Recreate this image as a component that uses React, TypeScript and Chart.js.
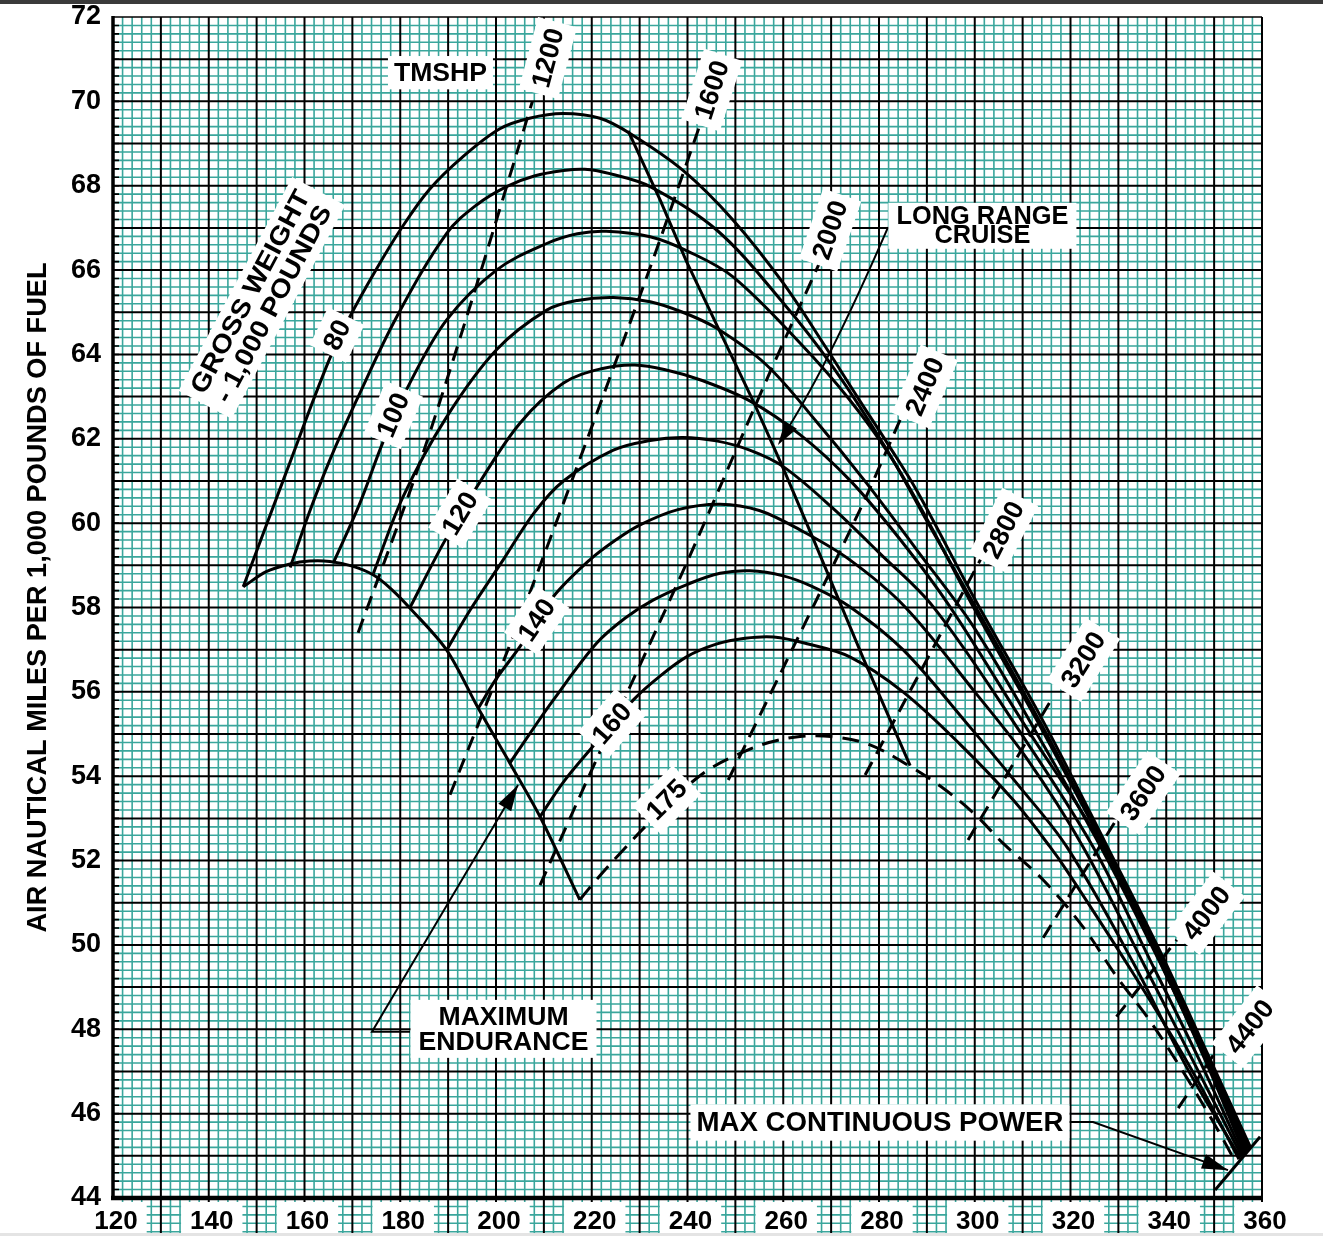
import React, { useEffect, useRef } from "react";
import { Chart, registerables } from "chart.js";

Chart.register(...registerables);

type Pt = [number, number];

// ---------- axes ----------
const X_MIN = 120;
const X_MAX = 360;
const Y_MIN = 44;
const Y_MAX = 72;
const X_MINOR = 2;
const Y_MINOR = 0.2;
const xTickValues = [120, 140, 160, 180, 200, 220, 240, 260, 280, 300, 320, 340, 360];
const yTickValues = [44, 46, 48, 50, 52, 54, 56, 58, 60, 62, 64, 66, 68, 70, 72];

// ---------- gross weight curves (1,000 lb) : [KTAS, NAMPP] ----------
const gw80: Pt[] = [
  [147.2, 58.49], [156, 61.15], [165, 63.83], [169.5, 64.9], [175, 66.02], [180, 66.95],
  [186, 67.9], [193.1, 68.69], [200.8, 69.35], [207, 69.6], [214, 69.71], [221.7, 69.6],
  [228, 69.24], [239, 68.37], [249.5, 67.19], [260, 65.69], [268.3, 64.27], [276, 62.9],
  [282, 61.85], [288, 60.75], [300, 58.2], [314.3, 55.3], [327.6, 52.35], [338.7, 49.85],
  [348.5, 47.45], [357.6, 45.2],
];
const gw90: Pt[] = [
  [157, 58.95], [161, 60.25], [165.3, 61.5], [170.9, 62.92], [179.3, 64.9], [189.7, 66.87],
  [196, 67.55], [202.2, 67.98], [208, 68.23], [214.1, 68.36], [218.5, 68.39], [224, 68.28],
  [232.2, 67.98], [246.1, 66.95], [260, 65.22], [270.4, 63.7], [281.7, 61.73], [290, 60.05],
  [300, 58.05], [314.3, 55.15], [327.6, 52.25], [338.7, 49.75], [348.5, 47.38], [357.3, 45.15],
];
const gw100: Pt[] = [
  [166, 59.05], [171.6, 60.48], [176.5, 61.95], [182, 63.32], [189.7, 64.82], [200.1, 66.0],
  [210.6, 66.63], [217, 66.86], [223, 66.92], [232.2, 66.79], [240, 66.45], [249.5, 65.84],
  [263.5, 64.27], [273.9, 62.92], [282.3, 61.6], [290, 60.1], [300, 57.95], [314.3, 55.05],
  [327.6, 52.2], [338.7, 49.68], [348.5, 47.3], [357, 45.1],
];
const gw110: Pt[] = [
  [174.4, 58.81], [180.6, 60.63], [189.7, 62.52], [200.1, 64.11], [210.6, 65.05], [217, 65.28],
  [224.5, 65.35], [232.2, 65.25], [239, 65.0], [246.1, 64.62], [256.5, 63.75], [267, 62.4],
  [277.4, 60.95], [288, 59.35], [300, 57.5], [314.3, 54.75], [327.6, 52.05], [338.7, 49.58],
  [348.5, 47.22], [356.7, 45.07],
];
const gw120: Pt[] = [
  [182, 57.99], [189, 59.52], [196, 60.86], [205, 62.37], [214.1, 63.32], [222, 63.66],
  [229, 63.75], [236, 63.62], [242.6, 63.4], [253, 62.9], [263.5, 62.1], [273.9, 61.02],
  [284.5, 59.6], [294.8, 58.02], [310.5, 55.2], [326.8, 52.33], [338.5, 49.65], [348.2, 47.25],
  [356.4, 45.04],
];
const gw130: Pt[] = [
  [189.7, 56.99], [194.6, 57.94], [201.5, 59.13], [208, 60.25], [214.1, 61.0], [224.5, 61.73],
  [232.2, 61.96], [239, 62.03], [246, 61.95], [253, 61.73], [260, 61.34], [270.4, 60.35],
  [280, 59.3], [291.3, 58.02], [308, 55.3], [324.7, 52.33], [336.8, 49.6], [347.3, 47.18],
  [356.1, 45.01],
];
const gw140: Pt[] = [
  [196.3, 55.61], [200, 56.3], [205, 57.07], [212, 58.26], [219.6, 59.13], [225, 59.6],
  [230.1, 59.96], [238, 60.32], [246.8, 60.45], [255, 60.3], [263.5, 59.84], [273.9, 59.13],
  [285.4, 58.02], [300, 56.0], [311, 54.4], [322.6, 52.33], [335.5, 49.5], [346.5, 47.05],
  [355.8, 44.98],
];
const gw150: Pt[] = [
  [202.9, 54.31], [207, 55.0], [212, 55.81], [221, 57.15], [227, 57.75], [232.9, 58.18],
  [240, 58.55], [246.8, 58.81], [253, 58.87], [260, 58.75], [266, 58.5], [273.9, 58.02],
  [285, 57.0], [298, 55.3], [309, 53.8], [319.2, 52.33], [333, 49.6], [344.5, 47.05],
  [355.5, 44.95],
];
const gw160: Pt[] = [
  [209.2, 53.04], [214, 53.85], [219.6, 54.62], [228.7, 55.81], [234, 56.35], [239.8, 56.83],
  [246, 57.13], [252, 57.27], [258, 57.3], [265, 57.14], [273.9, 56.83], [285, 56.0],
  [297, 54.75], [308, 53.44], [315.7, 52.33], [319.3, 51.75], [333, 49.34], [345, 47.1],
  [355.2, 44.92],
];
const gw175: Pt[] = [
  [217.5, 51.07], [221, 51.55], [225.9, 52.17], [232, 52.9], [239.8, 53.75], [245, 54.2],
  [251, 54.54], [257, 54.8], [263.5, 54.94], [270, 54.94], [278, 54.75], [286.5, 54.23],
  [293, 53.75], [300, 53.1], [306, 52.4], [314.3, 51.54], [322.6, 50.43], [329.7, 49.24],
  [336.6, 48.2], [344.3, 46.85], [350.6, 45.65], [354, 44.95],
];

// ---------- torque meter shaft horsepower lines ----------
const tmshp1200: Pt[] = [[171.2, 57.4], [183.4, 61.2], [195, 65.3], [207.6, 70.0]];
const tmshp1600: Pt[] = [[190.4, 53.56], [205.7, 57.94], [231.5, 65.84], [242.6, 69.44]];
const tmshp2000: Pt[] = [[209.2, 51.42], [221, 54.4], [239.8, 59.05], [256.5, 63.39], [267.7, 66.2]];
const tmshp2400: Pt[] = [[248.5, 53.91], [276, 60.31], [285, 62.6]];
const tmshp2800: Pt[] = [[277.1, 54.03], [301.5, 59.2]];
const tmshp3200: Pt[] = [[298.6, 52.49], [316.4, 55.89]];
const tmshp3600: Pt[] = [[314.3, 50.17], [329.3, 52.92]];
const tmshp4000: Pt[] = [[329.6, 48.3], [342.2, 50.12]];
const tmshp4400: Pt[] = [[342.5, 46.13], [350.5, 47.5]];

// ---------- boundary lines ----------
const maxEndurance: Pt[] = [
  [147.2, 58.49], [152, 58.85], [157, 59.03], [161, 59.1], [165.3, 59.09], [170, 58.98],
  [174.4, 58.77], [178, 58.45], [182, 57.99], [189.7, 56.99], [196.3, 55.61], [202.9, 54.31],
  [209.2, 53.04], [217.5, 51.07],
];
const longRangeCruise: Pt[] = [
  [227.6, 69.3], [234.3, 67.66], [239.8, 66.2], [246.1, 64.7], [253.7, 62.9], [260, 61.3],
  [266, 59.7], [276.7, 56.8], [286.5, 54.25],
];
const maxContinuousPower: Pt[] = [[350.2, 44.19], [359.6, 45.45]];

// ---------- texts ----------
const yTitle = "AIR NAUTICAL MILES PER 1,000 POUNDS OF FUEL";
const weightLabels = [
  { text: "80", x: 166.8, y: 64.46, angle: -64 },
  { text: "100", x: 178.55, y: 62.56, angle: -67 },
  { text: "120", x: 192.5, y: 60.23, angle: -59 },
  { text: "140", x: 208.5, y: 57.7, angle: -56 },
  { text: "160", x: 224.2, y: 55.25, angle: -49 },
  { text: "175", x: 235.65, y: 53.44, angle: -45 },
];
const tmshpLabels = [
  { text: "1200", x: 210.86, y: 71.03, angle: -75 },
  { text: "1600", x: 245.1, y: 70.27, angle: -72 },
  { text: "2000", x: 269.8, y: 66.95, angle: -71 },
  { text: "2400", x: 289.6, y: 63.24, angle: -67 },
  { text: "2800", x: 306.0, y: 59.84, angle: -63 },
  { text: "3200", x: 322.7, y: 56.76, angle: -58 },
  { text: "3600", x: 335.2, y: 53.6, angle: -56 },
  { text: "4000", x: 348.4, y: 50.75, angle: -52 },
  { text: "4400", x: 357.5, y: 48.06, angle: -52 },
];

const TEAL = "#3aa69c";
const FONT = '"Liberation Sans", Arial, Helvetica, sans-serif';

function boxedText(
  ctx: CanvasRenderingContext2D,
  lines: string[],
  cx: number,
  cy: number,
  angleDeg: number,
  size: number,
  o: { padX?: number; padY?: number; lineH?: number; width?: number; box?: boolean } = {}
) {
  const padX = o.padX ?? 6;
  const padY = o.padY ?? 4;
  const lh = o.lineH ?? size * 1.05;
  ctx.save();
  ctx.translate(cx, cy);
  ctx.rotate((angleDeg * Math.PI) / 180);
  ctx.font = `bold ${size}px ${FONT}`;
  const widths = lines.map((l) => ctx.measureText(l).width);
  const maxW = Math.max(...widths);
  const sx = o.width ? o.width / maxW : 1;
  const w = maxW * sx;
  const h = lh * lines.length;
  if (o.box !== false) {
    ctx.fillStyle = "#ffffff";
    ctx.fillRect(-w / 2 - padX, -h / 2 - padY, w + 2 * padX, h + 2 * padY);
  }
  ctx.fillStyle = "#000000";
  ctx.textAlign = "center";
  ctx.textBaseline = "middle";
  lines.forEach((l, i) => {
    ctx.save();
    ctx.translate(0, -h / 2 + lh * (i + 0.5) + size * 0.04);
    ctx.scale(sx, 1);
    ctx.fillText(l, 0, 0);
    ctx.restore();
  });
  ctx.restore();
}

function arrowHead(ctx: CanvasRenderingContext2D, fx: number, fy: number, tx: number, ty: number, len: number, wid: number) {
  const a = Math.atan2(ty - fy, tx - fx);
  ctx.save();
  ctx.translate(tx, ty);
  ctx.rotate(a);
  ctx.beginPath();
  ctx.moveTo(0, 0);
  ctx.lineTo(-len, -wid / 2);
  ctx.lineTo(-len, wid / 2);
  ctx.closePath();
  ctx.fillStyle = "#000";
  ctx.fill();
  ctx.restore();
}

const paperPlugin = {
  id: "paperGrid",
  beforeDraw(chart: any) {
    const { ctx, chartArea: a, scales } = chart;
    const xs = scales.x;
    const ys = scales.y;
    const W = chart.width;
    const H = chart.height;
    ctx.save();
    ctx.fillStyle = "#ffffff";
    ctx.fillRect(0, 0, W, H);
    // minor grid
    ctx.beginPath();
    ctx.strokeStyle = TEAL;
    ctx.lineWidth = 1.6;
    const nx = Math.round((X_MAX - X_MIN) / X_MINOR);
    for (let k = 0; k <= nx; k++) {
      if (k % 5 === 0) continue;
      const px = xs.getPixelForValue(X_MIN + k * X_MINOR);
      ctx.moveTo(px, a.top);
      ctx.lineTo(px, H);
    }
    for (let k = 1; k < 400; k++) {
      const v = Y_MAX - k * Y_MINOR;
      const py = ys.getPixelForValue(v);
      if (py > H) break;
      if (k % 5 === 0) continue;
      ctx.moveTo(a.left, py);
      ctx.lineTo(a.right, py);
    }
    ctx.stroke();
    // major grid
    ctx.beginPath();
    ctx.strokeStyle = "#000";
    ctx.lineWidth = 2;
    for (let v = X_MIN + 10; v <= X_MAX; v += 10) {
      const px = xs.getPixelForValue(v);
      ctx.moveTo(px, a.top);
      ctx.lineTo(px, H);
    }
    for (let v = Y_MIN + 1; v < Y_MAX; v += 1) {
      const py = ys.getPixelForValue(v);
      ctx.moveTo(a.left, py);
      ctx.lineTo(a.right, py);
    }
    ctx.stroke();
    // top border
    ctx.beginPath();
    ctx.lineWidth = 1.6;
    ctx.moveTo(a.left, a.top);
    ctx.lineTo(a.right, a.top);
    ctx.stroke();
    // left axis small ticks
    ctx.beginPath();
    ctx.lineWidth = 1.6;
    for (let k = 1; k < 140; k++) {
      const py = ys.getPixelForValue(Y_MIN + k * Y_MINOR);
      ctx.moveTo(a.left, py);
      ctx.lineTo(a.left + 6, py);
    }
    ctx.stroke();
    // left axis
    ctx.beginPath();
    ctx.lineWidth = 3.5;
    ctx.moveTo(a.left, a.top - 1);
    ctx.lineTo(a.left, a.bottom + 2);
    ctx.stroke();
    // bottom axis
    ctx.beginPath();
    ctx.lineWidth = 4.5;
    ctx.moveTo(a.left - 2, a.bottom);
    ctx.lineTo(a.right + 1, a.bottom);
    ctx.stroke();
    ctx.restore();
  },
  afterDatasetsDraw(chart: any) {
    const { ctx, scales } = chart;
    const xs = scales.x;
    const ys = scales.y;
    const P = (x: number, y: number): [number, number] => [xs.getPixelForValue(x), ys.getPixelForValue(y)];
    ctx.save();
    ctx.strokeStyle = "#000";
    ctx.lineCap = "butt";

    // Long range cruise leader
    {
      const s = P(281.9, 67.02);
      const c = P(268.9, 63.61);
      const e = P(258.9, 61.85);
      ctx.beginPath();
      ctx.lineWidth = 2;
      ctx.moveTo(s[0], s[1]);
      ctx.quadraticCurveTo(c[0], c[1], e[0] + 3, e[1] - 6);
      ctx.stroke();
      arrowHead(ctx, c[0], c[1], e[0], e[1], 24, 14);
    }
    // Maximum endurance leader
    {
      const s = P(182.04, 47.94);
      const m = P(174.1, 47.94);
      const e = P(204.6, 53.79);
      ctx.beginPath();
      ctx.lineWidth = 2;
      ctx.moveTo(s[0], s[1]);
      ctx.lineTo(m[0], m[1]);
      ctx.lineTo(e[0], e[1]);
      ctx.stroke();
      arrowHead(ctx, m[0], m[1], e[0], e[1], 26, 15);
    }
    // Max continuous power leader
    {
      const s = P(318.85, 45.8);
      const m = P(324.7, 45.8);
      const e = P(352.9, 44.66);
      ctx.beginPath();
      ctx.lineWidth = 2;
      ctx.moveTo(s[0], s[1]);
      ctx.lineTo(m[0], m[1]);
      ctx.lineTo(e[0], e[1]);
      ctx.stroke();
      arrowHead(ctx, m[0], m[1], e[0], e[1], 26, 15);
    }

    weightLabels.forEach((l) => {
      const p = P(l.x, l.y);
      boxedText(ctx, [l.text], p[0], p[1], l.angle, 27, { padX: 6, padY: 6 });
    });
    tmshpLabels.forEach((l) => {
      const p = P(l.x, l.y);
      boxedText(ctx, [l.text], p[0], p[1], l.angle, 27, { padX: 7, padY: 6 });
    });

    let p = P(188.4, 70.68);
    boxedText(ctx, ["TMSHP"], p[0], p[1], 0, 26, { width: 93, padX: 6, padY: 3 });
    p = P(151.1, 65.34);
    boxedText(ctx, ["GROSS WEIGHT", "- 1,000 POUNDS"], p[0], p[1], -62, 26, { width: 226, lineH: 26, padX: 8, padY: 4 });
    p = P(301.6, 67.05);
    boxedText(ctx, ["LONG RANGE", "CRUISE"], p[0], p[1], 0, 25, { width: 172, lineH: 19, padX: 8, padY: 4 });
    p = P(201.57, 48.01);
    boxedText(ctx, ["MAXIMUM", "ENDURANCE"], p[0], p[1], 0, 26, { width: 170, lineH: 25, padX: 8, padY: 4 });
    p = P(280.2, 45.79);
    boxedText(ctx, ["MAX CONTINUOUS POWER"], p[0], p[1], 0, 27, { width: 367, padX: 6, padY: 4 });
    ctx.restore();
  },
  afterDraw(chart: any) {
    const { ctx, chartArea: a } = chart;
    ctx.save();
    boxedText(ctx, [yTitle], 37, (a.top + a.bottom) / 2 - 10, -90, 28, { width: 670, box: false });
    ctx.fillStyle = "#3a3a3a";
    ctx.fillRect(0, 0, chart.width, 4);
    ctx.fillStyle = "#e4e4e4";
    ctx.fillRect(0, chart.height - 3, chart.width, 3);
    ctx.restore();
  },
};

function curveSet(pts: Pt[], dashed: boolean, tension: number, width = 3) {
  return {
    data: pts.map(([x, y]) => ({ x, y })),
    showLine: true,
    borderColor: "#000",
    backgroundColor: "#000",
    borderWidth: width,
    pointRadius: 0,
    pointHoverRadius: 0,
    fill: false,
    borderDash: dashed ? [15, 9] : [],
    cubicInterpolationMode: "default",
    tension,
    borderCapStyle: "butt",
    borderJoinStyle: "round",
  };
}

export default function App() {
  const ref = useRef<HTMLCanvasElement | null>(null);
  useEffect(() => {
    document.body.style.margin = "0";
    document.body.style.overflow = "hidden";
    if (!ref.current) return;
    const solidCurves = [gw80, gw90, gw100, gw110, gw120, gw130, gw140, gw150, gw160];
    const tmshp = [tmshp1200, tmshp1600, tmshp2000, tmshp2400, tmshp2800, tmshp3200, tmshp3600, tmshp4000, tmshp4400];
    const datasets: any[] = [
      ...tmshp.map((t) => curveSet(t, true, 0.3, 3)),
      ...solidCurves.map((c) => curveSet(c, false, 0.35, 3)),
      { ...curveSet(gw175, true, 0.35, 3), borderDash: [17, 10] },
      curveSet(maxEndurance, false, 0.3, 3),
      curveSet(longRangeCruise, false, 0, 3),
      curveSet(maxContinuousPower, false, 0, 3),
    ];
    const tickFont = { family: FONT, size: 27, weight: "bold" as const };
    const xTickFont = { family: FONT, size: 26, weight: "bold" as const };
    const chart = new Chart(ref.current, {
      type: "scatter",
      data: { datasets },
      options: {
        animation: false,
        responsive: false,
        devicePixelRatio: 1,
        events: [],
        layout: { padding: { top: 17, right: 61, left: 0, bottom: 0 } },
        plugins: { legend: { display: false }, tooltip: { enabled: false }, title: { display: false } },
        scales: {
          x: {
            type: "linear",
            min: X_MIN,
            max: X_MAX,
            position: "bottom",
            grid: { display: false, drawTicks: false },
            border: { display: false },
            afterBuildTicks: (s: any) => {
              s.ticks = xTickValues.map((v) => ({ value: v }));
            },
            afterFit: (s: any) => {
              s.height = 38;
              s.paddingLeft = 0;
              s.paddingRight = 0;
            },
            ticks: {
              autoSkip: false,
              maxRotation: 0,
              minRotation: 0,
              padding: 8,
              labelOffset: 3,
              color: "#000",
              font: xTickFont,
              showLabelBackdrop: true,
              backdropColor: "#ffffff",
              backdropPadding: { top: 4, bottom: 12, left: 9, right: 9 },
              callback: (v: any) => String(v),
            },
          },
          y: {
            type: "linear",
            min: Y_MIN,
            max: Y_MAX,
            position: "left",
            grid: { display: false, drawTicks: false },
            border: { display: false },
            afterBuildTicks: (s: any) => {
              s.ticks = yTickValues.map((v) => ({ value: v }));
            },
            afterFit: (s: any) => {
              s.width = 113;
              s.paddingTop = 0;
              s.paddingBottom = 0;
            },
            ticks: {
              autoSkip: false,
              padding: 12,
              color: "#000",
              font: tickFont,
              callback: (v: any) => String(v),
            },
          },
        },
      } as any,
      plugins: [paperPlugin as any],
    });
    return () => chart.destroy();
  }, []);
  return (
    <div style={{ width: 1323, height: 1236, position: "relative" }}>
      <canvas ref={ref} width={1323} height={1236} style={{ display: "block" }} />
    </div>
  );
}
